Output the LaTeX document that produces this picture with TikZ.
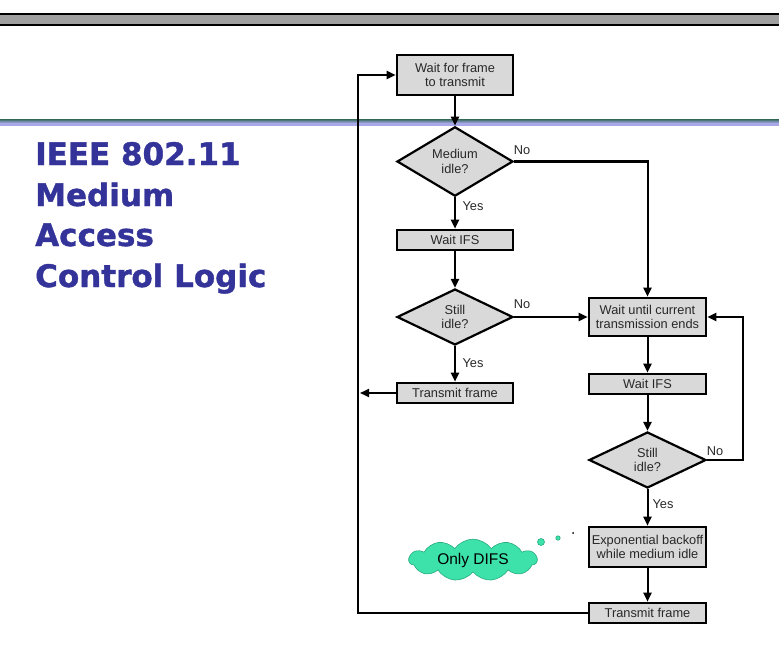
\documentclass[tikz,border=0pt]{standalone}
\usepackage{fontspec}
\setmainfont{Liberation Sans}
\newfontfamily\headfont{DejaVu Sans}[BoldFeatures={FakeBold=1.2}]
\usetikzlibrary{arrows.meta,shapes.geometric,shapes.symbols}

\definecolor{boxgray}{RGB}{217,217,217}
\definecolor{barfill}{RGB}{160,160,160}
\definecolor{headblue}{RGB}{51,51,153}
\definecolor{rulelav}{RGB}{168,168,232}
\definecolor{ruleteal}{RGB}{80,120,125}
\definecolor{cloudgreen}{RGB}{60,226,170}
\definecolor{cloudedge}{RGB}{40,170,130}
\definecolor{inktext}{RGB}{40,40,40}

\newcommand\diagfont{\fontsize{12.8}{14.5}\selectfont}

\tikzset{
  box/.style={draw, line width=2.6pt, fill=boxgray, text=inktext, minimum width=116pt,
              inner xsep=1pt, inner ysep=0pt, align=center, font=\diagfont},
  decision/.style={diamond, draw, line width=2.2pt, fill=boxgray, text=inktext,
              minimum width=116pt, minimum height=56pt, inner sep=0pt,
              align=center, font=\diagfont},
  link/.style={line width=2pt, -{Triangle[length=9pt,width=8pt]}},
  lab/.style={font=\diagfont, text=inktext, inner sep=0pt},
  headline/.style={anchor=base west, inner sep=0pt, text=headblue,
              font=\headfont\bfseries\fontsize{31}{36}\selectfont},
  bubble/.style={fill=cloudgreen, draw=cloudedge, line width=0.6pt}
}

\begin{document}
\begin{tikzpicture}[x=1pt,y=-1pt]
\useasboundingbox (0,0) rectangle (779,658);

% header bar and title rule
\fill[barfill] (0,14) rectangle (779,25);
\draw[line width=1.4pt] (0,14) -- (779,14);
\draw[line width=1.4pt] (0,25) -- (779,25);
\fill[top color=ruleteal, bottom color=rulelav, middle color=rulelav] (0,120) rectangle (779,126);

% slide title
\node[headline] (t1) at (35,165) {IEEE 802.11};
\node[headline] (t2) at (35,206) {Medium};
\node[headline] (t3) at (35,246) {Access};
\node[headline] (t4) at (35,287) {Control Logic};

% left column
\node[box, minimum height=40pt] (w1) at (455,75) {Wait for frame\\to transmit};
\node[decision] (d1) at (455,161.5) {Medium\\idle?};
\node[box, minimum height=20pt] (wifs1) at (455,240) {Wait IFS};
\node[decision] (d2) at (455,317) {Still\\idle?};
\node[box, minimum height=20pt] (tx1) at (455,393) {Transmit frame};

% right column
\node[box, minimum width=117pt, minimum height=38pt] (wc) at (647.5,317) {Wait until current\\transmission ends};
\node[box, minimum width=117pt, minimum height=20pt] (wifs2) at (647.5,384) {Wait IFS};
\node[decision, minimum width=117pt] (d3) at (647.5,460) {Still\\idle?};
\node[box, minimum width=117pt, minimum height=40pt] (bo) at (647.5,547) {Exponential backoff\\while medium idle};
\node[box, minimum width=117pt, minimum height=20pt] (tx2) at (647.5,613) {Transmit frame};

% branch labels
\node[lab] (n1) at (522,150) {No};
\node[lab] (y1) at (473,206) {Yes};
\node[lab] (n2) at (522,304) {No};
\node[lab] (y2) at (473,363) {Yes};
\node[lab] (n3) at (715,451) {No};
\node[lab] (y3) at (663,504) {Yes};

% routing points
\coordinate (ret) at (360,393);
\coordinate (lb) at (358,613);
\coordinate (lt) at (358,75);
\coordinate (rb) at (743,460);
\coordinate (rt) at (743,317);

% connectors
\draw[link] (w1.south) -- (d1.north);
\draw[link] (d1.south) -- (wifs1.north);
\draw[link] (d1.east) -| (wc.north);
\draw[link] (wifs1.south) -- (d2.north);
\draw[link] (d2.east) -- (wc.west);
\draw[link] (d2.south) -- (tx1.north);
\draw[link] (tx1.west) -- (ret);
\draw[link] (wc.south) -- (wifs2.north);
\draw[link] (wifs2.south) -- (d3.north);
\draw[link] (d3.east) -- (rb) -- (rt) -- (wc.east);
\draw[link] (d3.south) -- (bo.north);
\draw[link] (bo.south) -- (tx2.north);
\draw[link] (tx2.west) -- (lb) -- (lt) -- (w1.west);

% thought cloud
\node[cloud, cloud puffs=11, cloud puff arc=110, aspect=3.6, fill=cloudgreen,
      draw=cloudedge, line width=0.6pt, minimum width=128pt, minimum height=38pt,
      inner sep=0pt, font=\fontsize{15.5}{18}\selectfont] (cl) at (473,560) {Only DIFS};
\draw[bubble] (541,542) circle (3.5);
\draw[bubble] (558,538) circle (2.2);
\fill (573,533) circle (1);
\end{tikzpicture}
\end{document}
